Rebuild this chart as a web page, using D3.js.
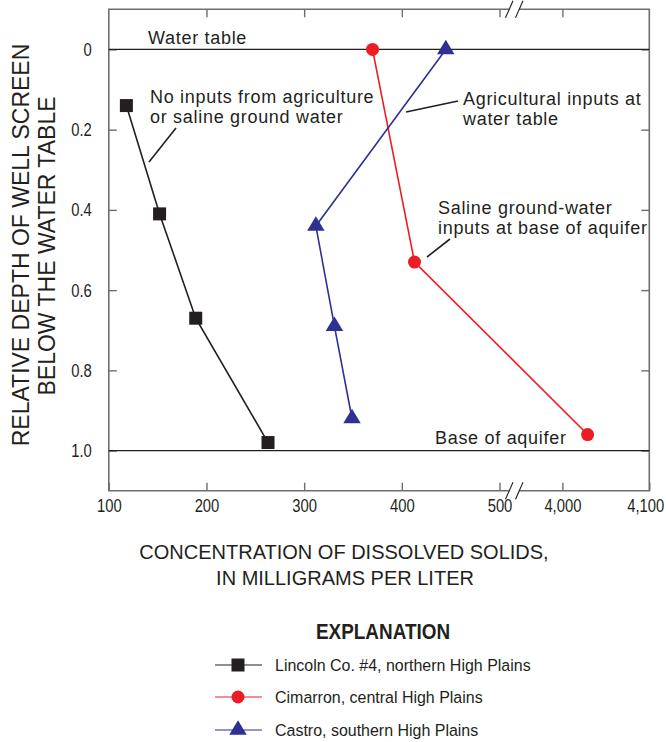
<!DOCTYPE html>
<html>
<head>
<meta charset="utf-8">
<script src="https://cdn.jsdelivr.net/npm/d3@7"></script>
<style>
  html, body { margin: 0; padding: 0; background: #fff; }
  svg { display: block; }
  .lbl { font-family: "Liberation Sans", Arial, Helvetica, sans-serif; fill: #231f20; }
</style>
</head>
<body>
<svg id="chart" width="666" height="742"></svg>
<script>
// Relative depth of well screen vs. dissolved-solids concentration
const lincolnConc  = [118, 152, 189, 263];
const lincolnDepth = [0.14, 0.41, 0.67, 0.98];
const cimarronConc  = [370, 413, 4029];
const cimarronDepth = [0, 0.53, 0.96];
const castroConc  = [445, 312, 331, 349];
const castroDepth = [0, 0.44, 0.69, 0.92];

const xTicksLow  = [100, 200, 300, 400, 500];
const xTicksHigh = [4000, 4100];
const yTicks = [0, 0.2, 0.4, 0.6, 0.8, 1.0];
const yTickLabels = ["0", "0.2", "0.4", "0.6", "0.8", "1.0"];

const seriesNames = [
  "Lincoln Co. #4, northern High Plains",
  "Cimarron, central High Plains",
  "Castro, southern High Plains"
];
const colors = ["#231f20", "#ed1c24", "#2e3192"];
const shapes = ["square", "circle", "triangle"];

const svg = d3.select("#chart");
const L = 108.8, R = 649.3, T = 9.3, B = 490.7;
const breakL = 509, breakR = 519;

// broken x axis: two linear pieces
const xLow  = d3.scaleLinear().domain([100, 500]).range([L, 499.5]);
const xHigh = d3.scaleLinear().domain([4000, 4100]).range([562.4, R]);
const x = v => v <= 1000 ? xLow(v) : xHigh(v);
const y = d3.scaleLinear().domain([-0.1, 1.1]).range([T, B]);

const axisColor = "#6d6e71";
const tick = 8;
const narrow = 0.78;   // horizontal squeeze for the condensed face

function styleAxis(g) {
  g.select(".domain").remove();
  g.selectAll(".tick line").attr("stroke", axisColor).attr("stroke-width", 1.4);
  g.selectAll(".tick text").each(function () {
    const t = d3.select(this);
    const x0 = +t.attr("x") || 0;
    t.attr("x", x0 / narrow)
      .attr("transform", `scale(${narrow},1)`)
      .attr("class", "lbl")
      .attr("fill", "#231f20")
      .style("font-size", "19px");
  });
}

// bottom axis (ticks point inward)
svg.append("g").attr("transform", `translate(0,${B})`)
  .call(d3.axisBottom(xLow).tickValues(xTicksLow).tickSizeInner(-tick).tickSizeOuter(0).tickPadding(8).tickFormat(d3.format(",")))
  .call(styleAxis);
const xHighAxis = svg.append("g").attr("transform", `translate(0,${B})`)
  .call(d3.axisBottom(xHigh).tickValues(xTicksHigh).tickSizeInner(-tick).tickSizeOuter(0).tickPadding(8).tickFormat(d3.format(",")))
  .call(styleAxis);
// keep the last label inside the page edge
xHighAxis.selectAll(".tick text").filter(d => d === 4100).attr("x", -4 / narrow);
// top axis
svg.append("g").attr("transform", `translate(0,${T})`)
  .call(d3.axisTop(xLow).tickValues(xTicksLow.slice(1)).tickSizeInner(-tick).tickSizeOuter(0).tickFormat(""))
  .call(styleAxis);
svg.append("g").attr("transform", `translate(0,${T})`)
  .call(d3.axisTop(xHigh).tickValues([4000]).tickSizeInner(-tick).tickSizeOuter(0).tickFormat(""))
  .call(styleAxis);
// left axis
svg.append("g").attr("transform", `translate(${L},0)`)
  .call(d3.axisLeft(y).tickValues(yTicks).tickSizeInner(-tick).tickSizeOuter(0).tickPadding(17)
    .tickFormat((d, i) => yTickLabels[i]))
  .call(styleAxis);
// right axis
svg.append("g").attr("transform", `translate(${R},0)`)
  .call(d3.axisRight(y).tickValues(yTicks).tickSizeInner(-tick).tickSizeOuter(0).tickFormat(""))
  .call(styleAxis);

// frame with gaps at the axis break
const frame = svg.append("g").attr("stroke", axisColor).attr("stroke-width", 1.6).attr("fill", "none");
frame.append("path").attr("d", `M${breakL},${T}H${L}V${B}H${breakL}`);
frame.append("path").attr("d", `M${breakR},${T}H${R}V${B}H${breakR}`);
// break marks
const brk = svg.append("g").attr("stroke", "#231f20").attr("stroke-width", 1.1);
[T, B].forEach(yy => {
  [[505.5, 513], [515.5, 523]].forEach(([a, b]) => {
    brk.append("line").attr("x1", a).attr("y1", yy + 8.5).attr("x2", b).attr("y2", yy - 8.5);
  });
});

// water table and base of aquifer lines
[0, 1].forEach(v => {
  svg.append("line").attr("x1", L).attr("x2", R).attr("y1", y(v)).attr("y2", y(v))
    .attr("stroke", "#231f20").attr("stroke-width", 1.2);
});

// marker drawing
function marker(g, shape, color) {
  if (shape === "square") {
    g.append("rect").attr("x", -6.5).attr("y", -6.5).attr("width", 13).attr("height", 13).attr("fill", color);
  } else if (shape === "circle") {
    g.append("circle").attr("r", 6.5).attr("fill", color);
  } else {
    const w = 17.5, h = 14.5;
    g.append("path").attr("d", `M0,${-2 * h / 3}L${w / 2},${h / 3}L${-w / 2},${h / 3}Z`).attr("fill", color);
  }
}

const series = [
  { conc: lincolnConc, depth: lincolnDepth },
  { conc: cimarronConc, depth: cimarronDepth },
  { conc: castroConc, depth: castroDepth }
];
const line = d3.line().x(d => x(d[0])).y(d => y(d[1]));

series.forEach((s, i) => {
  const pts = s.conc.map((c, j) => [c, s.depth[j]]);
  svg.append("path").attr("d", line(pts)).attr("fill", "none")
    .attr("stroke", colors[i]).attr("stroke-width", 1.6);
  pts.forEach(p => {
    const g = svg.append("g").attr("transform", `translate(${x(p[0])},${y(p[1])})`);
    marker(g, shapes[i], colors[i]);
  });
});

// annotations
function txt(lines, x0, y0, size, dy) {
  const t = svg.append("text").attr("class", "lbl").attr("x", x0).attr("y", y0)
    .style("font-size", size + "px").style("letter-spacing", "0.7px");
  lines.forEach((s, i) => t.append("tspan").attr("x", x0).attr("dy", i === 0 ? 0 : dy).text(s));
}
txt(["Water table"], 148, 44, 18, 20);
txt(["No inputs from agriculture", "or saline ground water"], 150, 103, 18, 20);
txt(["Agricultural inputs at", "water table"], 463, 105, 18, 20);
txt(["Saline ground-water", "inputs at base of aquifer"], 438, 214, 18, 20);
txt(["Base of aquifer"], 435, 444, 18, 20);

const leaders = svg.append("g").attr("stroke", "#231f20").attr("stroke-width", 1.6);
leaders.append("line").attr("x1", 176).attr("y1", 128).attr("x2", 149).attr("y2", 162);
leaders.append("line").attr("x1", 458).attr("y1", 101).attr("x2", 406).attr("y2", 112);
leaders.append("line").attr("x1", 450).attr("y1", 239).attr("x2", 427).attr("y2", 257);

// axis titles
svg.append("text").attr("class", "lbl").attr("text-anchor", "middle")
  .attr("transform", "translate(29,245) rotate(-90)").style("font-size", "23px")
  .text("RELATIVE DEPTH OF WELL SCREEN");
svg.append("text").attr("class", "lbl").attr("text-anchor", "middle")
  .attr("transform", "translate(55,246) rotate(-90)").style("font-size", "23px")
  .text("BELOW THE WATER TABLE");
svg.append("text").attr("class", "lbl").attr("text-anchor", "middle")
  .attr("x", 344).attr("y", 559).style("font-size", "20px")
  .text("CONCENTRATION OF DISSOLVED SOLIDS,");
svg.append("text").attr("class", "lbl").attr("text-anchor", "middle")
  .attr("x", 345).attr("y", 585).style("font-size", "20px")
  .text("IN MILLIGRAMS PER LITER");

// explanation (condensed bold heading)
svg.append("g").attr("transform", "translate(383,639) scale(0.86,1)")
  .append("text").attr("class", "lbl").attr("text-anchor", "middle")
  .style("font-size", "22px").style("font-weight", "bold")
  .text("EXPLANATION");

const legendY = [665, 697, 730];
seriesNames.forEach((name, i) => {
  const g = svg.append("g").attr("transform", `translate(0,${legendY[i]})`);
  g.append("line").attr("x1", 215).attr("x2", 262).attr("stroke", colors[i]).attr("stroke-width", 1.2);
  const m = g.append("g").attr("transform", "translate(238,0)");
  marker(m, shapes[i], colors[i]);
  g.append("g").attr("transform", "translate(275,6) scale(0.94,1)")
    .append("text").attr("class", "lbl").style("font-size", "17px").text(name);
});
</script>
</body>
</html>
